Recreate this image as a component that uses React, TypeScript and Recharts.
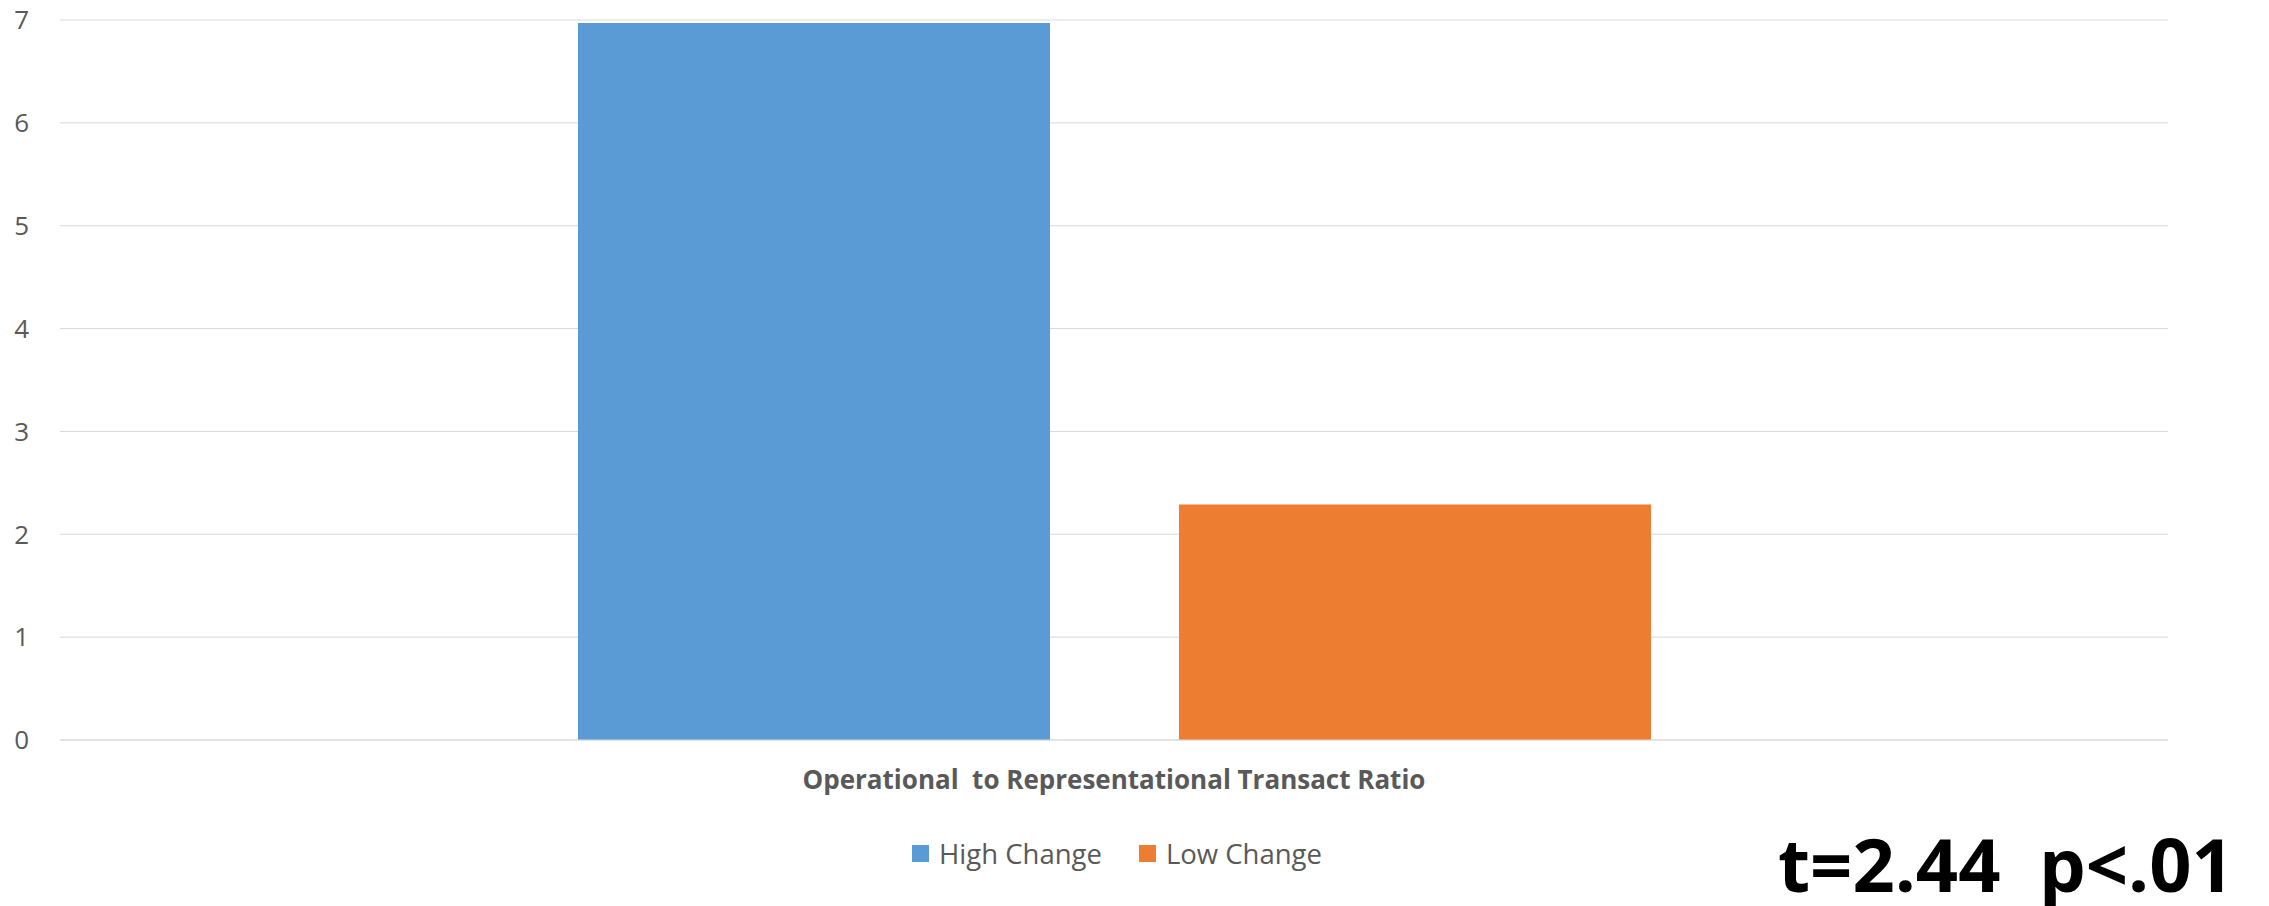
import React from "react";
import { BarChart, Bar, XAxis, YAxis, CartesianGrid, Legend } from "recharts";

const categories = ["Operational  to Representational Transact Ratio"];
const highChange = [6.97];
const lowChange = [2.29];
const seriesNames = ["High Change", "Low Change"];
const seriesColors = ["#5B9BD5", "#ED7D31"];
const yTicks = [0, 1, 2, 3, 4, 5, 6, 7];
const statLabel = "t=2.44  p<.01";

const data = categories.map((c, i) => ({
  category: c,
  high: highChange[i],
  low: lowChange[i],
}));

const FONT = "'Open Sans', 'Liberation Sans', sans-serif";

const XTick = (props: any) => {
  const { x, y, payload } = props;
  return (
    <text
      x={x}
      y={y + 49}
      textAnchor="middle"
      fill="#595959"
      fontSize={26}
      fontWeight={700}
      fontFamily={FONT}
      style={{ whiteSpace: "pre" }}
    >
      {payload.value}
    </text>
  );
};

const renderLegend = (props: any) => {
  const { payload } = props;
  return (
    <div
      style={{
        display: "flex",
        justifyContent: "center",
        alignItems: "center",
        fontFamily: FONT,
        fontSize: 27.5,
        color: "#595959",
      }}
    >
      {payload.map((entry: any, i: number) => (
        <div
          key={i}
          style={{
            display: "flex",
            alignItems: "center",
            marginLeft: i === 0 ? 0 : 37,
          }}
        >
          <span
            style={{
              display: "inline-block",
              width: 17,
              height: 17,
              background: entry.color,
              marginRight: 10,
            }}
          />
          <span>{entry.value}</span>
        </div>
      ))}
    </div>
  );
};

export default function App() {
  return (
    <div style={{ position: "absolute", left: 0, top: 0, width: 2269, height: 906, background: "#fff" }}>
      <BarChart
        width={2269}
        height={906}
        data={data}
        margin={{ top: 20, right: 101, bottom: 136, left: 0 }}
        barSize={472}
        barGap={129}
      >
        <CartesianGrid horizontal vertical={false} stroke="#d9d9d9" strokeWidth={1} />
        <XAxis
          dataKey="category"
          height={30}
          axisLine={{ stroke: "#d9d9d9" }}
          tickLine={false}
          tickSize={0}
          tickMargin={0}
          tick={<XTick />}
          interval={0}
        />
        <YAxis
          width={60}
          domain={[0, 7]}
          ticks={yTicks}
          axisLine={false}
          tickLine={false}
          tickSize={0}
          tickMargin={31}
          tick={{ fill: "#595959", fontSize: 26, fontFamily: FONT }}
          interval={0}
        />
        <Legend
          layout="horizontal"
          verticalAlign="middle"
          align="center"
          content={renderLegend}
          wrapperStyle={{ top: 835, left: 0, width: 2234 }}
        />
        <Bar dataKey="high" name={seriesNames[0]} fill={seriesColors[0]} isAnimationActive={false} />
        <Bar dataKey="low" name={seriesNames[1]} fill={seriesColors[1]} isAnimationActive={false} />
      </BarChart>
      <svg
        width={2269}
        height={906}
        style={{ position: "absolute", left: 0, top: 0, pointerEvents: "none" }}
      >
        <text
          x={1778}
          y={892}
          fontFamily={FONT}
          fontWeight={700}
          fontSize={74}
          fill="#000"
          style={{ whiteSpace: "pre" }}
        >
          {statLabel}
        </text>
      </svg>
    </div>
  );
}
